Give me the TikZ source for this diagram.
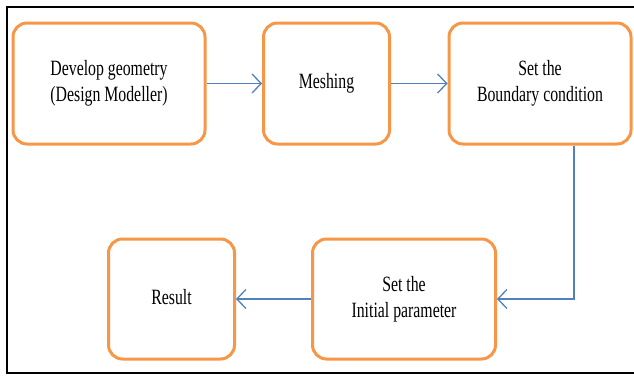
\documentclass[tikz,border=0pt]{standalone}
\usepackage{fontspec}
\setmainfont{Liberation Serif}
\usepackage{graphicx}
\usetikzlibrary{positioning}
\usetikzlibrary{arrows.meta}
\usepackage{xcolor}
\definecolor{boxorange}{HTML}{F79646}
\definecolor{arrowblue}{HTML}{4F81BD}
\newcommand{\tallText}[1]{\scalebox{1}[1.38]{\begin{tabular}{@{}c@{}}#1\end{tabular}}}

\tikzset{
  stepbox/.style={draw=boxorange, line width=3pt, rounded corners=14pt,
    inner sep=0pt, align=center, font=\fontsize{15.8}{19}\selectfont},
  flowarrow/.style={draw=arrowblue, line width=1.3pt,
    -{Straight Barb[length=9pt,width=19pt,line width=1.3pt]}}
}

\begin{document}
\begin{tikzpicture}[x=1pt, y=-1pt]
    \useasboundingbox (0,0) rectangle (634,375);
    % frame
    \draw[line width=2pt] (634,7) -- (7,7) -- (7,373) -- (634,373);

    % upper row
    \node[stepbox, minimum width=192pt, minimum height=121pt] (geom) at (109,83.5) {\tallText{Develop geometry\\(Design Modeller)}};
    \node[stepbox, minimum width=126pt, minimum height=121pt] (mesh) at (326.5,83.5) {\tallText{Meshing}};
    \node[stepbox, minimum width=182pt, minimum height=121pt] (bound) at (540,83.5) {\tallText{Set the\\Boundary condition}};

    % lower row
    \node[stepbox, minimum width=183pt, minimum height=120pt] (init) at (404,299) {\tallText{Set the\\Initial parameter}};
    \node[stepbox, minimum width=126pt, minimum height=120pt] (result) at (171.5,299) {\tallText{Result}};

    \draw[flowarrow] (geom) -- (mesh);
    \draw[flowarrow] (mesh) -- (bound);
    \draw[flowarrow] ([xshift=34pt]bound.south) |- (init.east);
    \draw[flowarrow] (init) -- (result);
\end{tikzpicture}
\end{document}
